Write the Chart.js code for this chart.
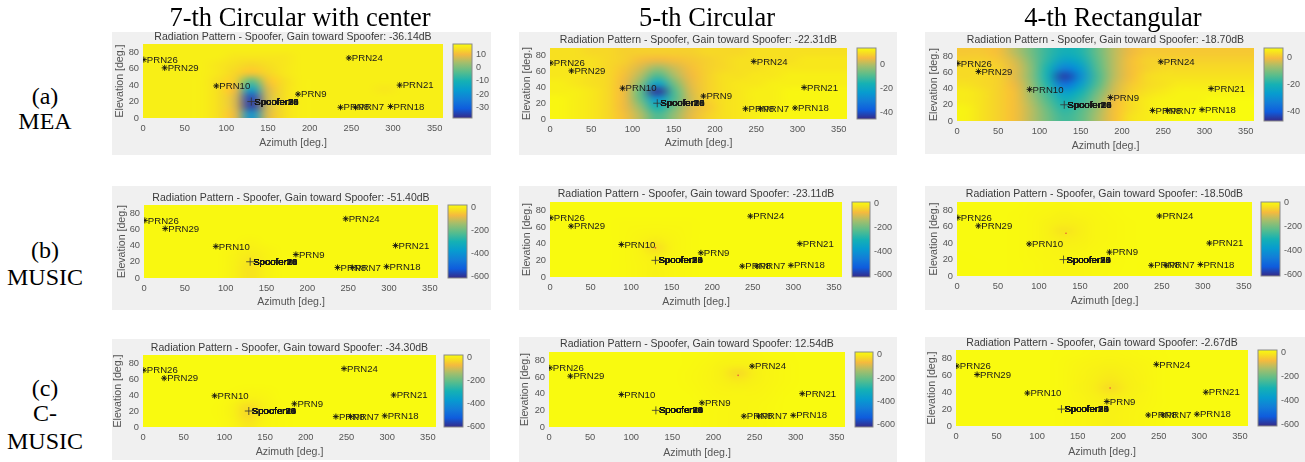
<!DOCTYPE html>
<html>
<head>
<meta charset="utf-8">
<script src="https://cdn.jsdelivr.net/npm/chart.js@4"></script>
<style>
    html, body { margin: 0; padding: 0; background: #fff; }
    body { width: 1305px; height: 462px; position: relative; overflow: hidden; }
    canvas { position: absolute; background: #f0f0f0; filter: blur(0.5px); }
    .rotulo { position: absolute; font-family: "Liberation Serif", serif; color: #000; white-space: nowrap; transform: translate(-50%, -50%); }
    .coluna { font-size: 26.5px; }
    .linha { font-size: 24px; }
</style>
</head>
<body>
<script>
// Satellite positions (same in every panel)
const prnNames = ['PRN26', 'PRN29', 'PRN10', 'PRN9', 'PRN24', 'PRN21', 'PRN18', 'PRN8', 'PRN7'];
const prnAz = [1, 26, 88, 186, 247, 308, 297, 237, 255];
const prnEl = [71, 61, 39, 29, 73, 40, 14, 13, 13];
const spooferNames = ['Spoofer26', 'Spoofer29', 'Spoofer10', 'Spoofer9', 'Spoofer24', 'Spoofer21', 'Spoofer18', 'Spoofer8', 'Spoofer7'];
const spooferAz = [130];
const spooferEl = [20];

const xTicks = [0, 50, 100, 150, 200, 250, 300, 350];
const yTicks = [0, 20, 40, 60, 80];

const columnNames = ['7-th Circular with center', '5-th Circular', '4-th Rectangular'];
const gains = ['-36.14', '-22.31', '-18.70', '-51.40', '-23.11', '-18.50', '-34.30', '12.54', '-2.67'];

// Colorbar limits and ticks for each panel
const cMin = [-37.7, -45, -47, -615, -617, -611, -600, -617, -614];
const cMax = [17.5, 13.6, 7, 26, 17, 8, 20, 23, 20];
const cTicks = [
    [-30, -20, -10, 0, 10],
    [-40, -20, 0],
    [-40, -20, 0],
    [-600, -400, -200, 0],
    [-600, -400, -200, 0],
    [-600, -400, -200, 0],
    [-600, -400, -200, 0],
    [-600, -400, -200, 0],
    [-600, -400, -200, 0]
];

// Small red dot at the deepest null, only where it is visible
const nullAz = [null, null, null, null, 130, 133, null, 230, 190];
const nullEl = [null, null, null, null, 35, 52, null, 62, 45];

// Gain, in dB. Cells are 20 deg wide and 10 deg high:
// columns from az 10 to az 350, rows from el 85 (top) to el 5 (bottom)
const fieldA1 = [
    [16,16,16,16,16,16,16,16,16,16,16,16,16,16,16,16,16,16],
    [16,16,16,16,16,15,15,15,15,16,16,16,16,16,16,16,16,16],
    [16,16,16,16,15,14,13,14,15,16,16,16,16,16,16,16,16,16],
    [16,16,16,16,15,13,11,13,15,16,16,16,16,16,16,16,16,16],
    [16,16,16,16,14,12,-3,11,14,16,16,16,16,16,16,16,16,16],
    [16,16,16,16,14,10,-16, 8,14,16,16,16,16,16,15,16,16,16],
    [16,16,16,16,14, 8,-33, 7,14,16,16,16,16,16,16,16,16,16],
    [16,16,16,16,14, 8,-35, 7,14,16,16,16,16,16,16,16,16,16],
    [16,16,16,16,14, 9,-20, 8,14,16,16,16,16,16,16,16,16,16]
];
const fieldA2 = [
    [10,10, 9, 9, 8, 8, 8, 8, 8, 9, 9, 9,10,10,10,10,10,10],
    [10,10,10, 9, 8, 6, 5, 6, 7, 8, 9,10,10,10,10,11,11,11],
    [11,11,10, 9, 7, 3,-2, 2, 6, 8, 9,10,10,11,11,11,11,11],
    [11,11,10, 9, 6, 0,-10,-1, 5, 8,10,10,11,11,12,12,12,12],
    [12,11,10, 9, 5,-4,-22,-6, 4, 8,10,11,11,12,12,12,12,12],
    [12,12,11, 9, 5,-8,-43,-10,3, 8,10,11,12,12,13,13,13,13],
    [13,12,11, 9, 5,-7,-25,-10,2, 8,10,11,12,12,13,13,13,13],
    [13,12,11, 9, 5,-3,-16,-6, 3, 7,10,11,12,12,13,13,13,13],
    [13,12,11, 9, 6, 0,-10,-3, 4, 8,10,11,12,13,13,13,13,13]
];
const fieldA3 = [
    [1, 1, 0,-5,-11,-17,-21,-19,-12,-5,-1, 1, 1, 1, 1, 1, 1, 1],
    [2, 2, 1,-3,-10,-18,-25,-22,-13,-5, 0, 2, 2, 2, 2, 2, 2, 2],
    [3, 3, 2,-2,-9,-20,-33,-27,-14,-5, 0, 2, 3, 3, 3, 3, 3, 3],
    [3, 3, 2,-2,-9,-21,-44,-30,-15,-5, 0, 3, 4, 4, 4, 4, 4, 4],
    [4, 3, 2,-1,-8,-19,-36,-26,-14,-4, 1, 3, 4, 5, 5, 5, 5, 5],
    [5, 4, 2, 0,-7,-16,-26,-20,-11,-3, 2, 4, 5, 6, 6, 6, 6, 6],
    [5, 4, 2, 0,-6,-14,-21,-17,-9,-1, 3, 5, 6, 6, 6, 7, 7, 7],
    [6, 4, 2, 0,-5,-12,-18,-14,-7, 0, 3, 5, 6, 6, 7, 7, 7, 7],
    [6, 4, 2, 0,-5,-11,-16,-13,-6, 0, 4, 5, 6, 7, 7, 7, 7, 7]
];
const fieldB1 = [
    [22,22,22,22,22,22,22,22,22,22,22,22,22,22,22,22,22,22],
    [22,22,22,22,22,22,22,22,22,22,22,22,22,22,22,22,22,22],
    [22,22,22,22,22,22,22,22,22,22,22,22,22,22,22,22,22,22],
    [22,22,22,22,22,22,22,22,22,22,22,22,22,22,22,22,22,22],
    [22,22,22,22,22,22,15,22,22,22,22,22,22,22,22,22,22,22],
    [22,22,22,22,22,15, 8,15,22,22,22,22,22,22,22,22,22,22],
    [22,22,22,22,22,13,-2,13,22,22,22,22,22,22,22,22,22,22],
    [22,22,22,22,22,12,-10,12,22,22,22,22,22,22,22,22,22,22],
    [22,22,22,22,22,12,-10,12,22,22,22,22,22,22,22,22,22,22]
];
const fieldB2 = [
    [16,16,16,16,16,16,16,16,16,16,16,16,16,16,16,16,16,16],
    [16,16,16,16,16,16,16,16,16,16,16,16,16,16,16,16,16,16],
    [16,16,16,16,13,12,12,12,13,16,16,16,16,16,16,16,16,16],
    [16,16,16,16,13,10, 8,10,13,16,16,16,16,16,16,16,16,16],
    [16,16,16,16,13, 7,-2, 7,13,16,16,16,16,16,16,16,16,16],
    [16,16,16,16,13, 6,-25,6,13,16,16,16,16,16,16,16,16,16],
    [16,16,16,16,13, 7,-2, 7,13,16,16,16,16,16,16,16,16,16],
    [16,16,16,16,13, 9, 4, 9,13,16,16,16,16,16,16,16,16,16],
    [16,16,16,16,13, 9, 4, 9,13,16,16,16,16,16,16,16,16,16]
];
const fieldB3 = [
    [6, 6, 6, 6, 4, 2, 1, 2, 3, 5, 6, 6, 6, 6, 6, 6, 6, 6],
    [6, 6, 6, 5, 3, 0,-4,-2, 1, 4, 6, 6, 6, 6, 6, 6, 6, 6],
    [6, 6, 6, 5, 2,-4,-10,-7,0, 3, 5, 6, 6, 6, 6, 6, 6, 6],
    [6, 6, 6, 5, 2,-6,-25,-10,-1,3, 5, 6, 6, 6, 6, 6, 6, 6],
    [6, 6, 6, 5, 2,-4,-12,-7,0, 3, 5, 6, 6, 6, 6, 6, 6, 6],
    [6, 6, 6, 5, 3,-1,-5,-3, 1, 4, 5, 6, 6, 6, 6, 6, 6, 6],
    [7, 6, 6, 5, 3, 0,-2,-1, 2, 4, 6, 6, 6, 6, 6, 6, 6, 6],
    [7, 7, 6, 5, 4, 1,-1, 0, 2, 4, 6, 7, 7, 7, 7, 7, 7, 7],
    [7, 7, 6, 5, 4, 1,-1, 0, 3, 5, 6, 7, 7, 7, 7, 7, 7, 7]
];
const fieldC1 = [
    [18,18,18,18,18,18,18,18,18,18,18,18,18,18,18,18,18,18],
    [18,18,18,18,18,18,18,18,18,18,18,18,18,18,18,18,18,18],
    [18,18,18,18,18,18,18,18,18,18,18,18,18,18,18,18,18,18],
    [18,18,18,18,18,18,18,18,18,18,18,18,18,18,18,18,18,18],
    [18,18,18,18,18,17,13,15,18,18,18,18,18,18,18,18,18,18],
    [18,18,18,18,18,12, 4,10,18,18,18,18,18,18,18,18,18,18],
    [18,18,18,18,17, 8,-25,8,15,18,18,18,18,18,18,18,18,18],
    [18,18,18,18,17, 8,-28,9,16,18,18,18,18,18,18,18,18,18],
    [18,18,18,18,18,10,-10,12,16,18,18,18,18,18,18,18,18,18]
];
const fieldC2 = [
    [21,21,21,21,21,21,21,21,20,18,15,13,15,18,20,21,21,21],
    [21,21,21,21,21,21,21,21,20,16,10, 7,10,15,19,21,21,21],
    [21,21,21,21,21,21,21,21,19,14, 6,-25,6,14,19,21,21,21],
    [21,21,21,21,21,21,21,21,19,15, 8,-2, 8,15,19,21,21,21],
    [21,21,21,21,21,21,21,21,20,16,12,11,12,16,20,21,21,21],
    [21,21,21,21,21,21,21,21,21,17,15,14,15,17,21,21,21,21],
    [21,21,21,21,21,21,21,21,21,18,16,15,16,18,21,21,21,21],
    [21,21,21,21,21,21,21,21,21,18,16,15,16,18,21,21,21,21],
    [21,21,21,21,21,21,21,21,21,18,16,15,16,18,21,21,21,21]
];
const fieldC3 = [
    [18,18,18,18,18,18,17,15,13,12,13,15,17,18,18,18,18,18],
    [18,18,18,18,18,18,16,12, 9, 7, 9,12,16,18,18,18,18,18],
    [18,18,18,18,18,18,15,10, 5, 0, 5,10,15,18,18,18,18,18],
    [18,18,18,18,18,18,15, 9, 3,-8, 3, 9,15,18,18,18,18,18],
    [18,18,18,18,18,18,15, 8, 0,-25,0, 8,15,18,18,18,18,18],
    [18,18,18,18,18,18,16,10, 4,-3, 4,10,16,18,18,18,18,18],
    [18,18,18,18,18,18,16,12, 7, 3, 7,12,16,18,18,18,18,18],
    [18,18,18,18,18,18,17,13, 9, 6, 9,13,17,18,18,18,18,18],
    [18,18,18,18,18,18,17,13, 9, 6, 9,13,17,18,18,18,18,18]
];
const fields = [fieldA1, fieldA2, fieldA3, fieldB1, fieldB2, fieldB3, fieldC1, fieldC2, fieldC3];

// Layout of each panel: grey box, plot area, colorbar
const boxes = [
    { gx: 112, gy: 32, gr: 491, gb: 155, px: 143, py: 44, pr: 443, pb: 118, barX: 453, barW: 19, titleY: 37, xTitleY: 143, yTitleX: 120 },
    { gx: 519, gy: 32, gr: 897, gb: 155, px: 550, py: 48, pr: 847, pb: 119, barX: 857, barW: 19, titleY: 40, xTitleY: 143, yTitleX: 527 },
    { gx: 925, gy: 32, gr: 1305, gb: 154, px: 957, py: 48, pr: 1254, pb: 121, barX: 1264, barW: 19, titleY: 40, xTitleY: 146, yTitleX: 934 },
    { gx: 112, gy: 186, gr: 491, gb: 310, px: 144, py: 205, pr: 438, pb: 278, barX: 448, barW: 19, titleY: 198, xTitleY: 302, yTitleX: 122 },
    { gx: 519, gy: 186, gr: 897, gb: 310, px: 550, py: 202, pr: 842, pb: 277, barX: 852, barW: 18, titleY: 194, xTitleY: 302, yTitleX: 527 },
    { gx: 925, gy: 186, gr: 1305, gb: 310, px: 957, py: 202, pr: 1252, pb: 276, barX: 1261, barW: 19, titleY: 194, xTitleY: 301, yTitleX: 934 },
    { gx: 112, gy: 339, gr: 490, gb: 460, px: 143, py: 355, pr: 436, pb: 427, barX: 444, barW: 19, titleY: 348, xTitleY: 452, yTitleX: 118 },
    { gx: 519, gy: 337, gr: 897, gb: 462, px: 549, py: 352, pr: 845, pb: 427, barX: 855, barW: 18, titleY: 344, xTitleY: 453, yTitleX: 525 },
    { gx: 925, gy: 337, gr: 1305, gb: 462, px: 956, py: 350, pr: 1248, pb: 426, barX: 1258, barW: 19, titleY: 343, xTitleY: 452, yTitleX: 932 }
];

// Parula colormap stops
const parulaPos = [0, 0.125, 0.25, 0.375, 0.5, 0.625, 0.75, 0.86, 0.93, 1];
const parula = [
    [53, 42, 135], [15, 92, 221], [18, 125, 216], [7, 156, 207], [21, 177, 180],
    [89, 189, 140], [165, 190, 107], [245, 186, 62], [247, 220, 35], [249, 251, 14]
];

function corParula(t) {
    t = Math.min(1, Math.max(0, t));
    let i = 0;
    while (i < parula.length - 2 && t > parulaPos[i + 1]) i++;
    const f = (t - parulaPos[i]) / (parulaPos[i + 1] - parulaPos[i]);
    return parula[i].map((c, k) => Math.round(c + (parula[i + 1][k] - c) * f));
}

const fonte = 'Liberation Sans, Arial, sans-serif';
const corEixo = '#555';

// Heat map under the points and the colorbar beside the plot
const mapaPlugin = {
    id: 'mapa',
    beforeDatasetsDraw(chart, args, opts) {
        const ctx = chart.ctx;
        const x = chart.scales.x, y = chart.scales.y, c = chart.scales.c;
        const campo = opts.campo;

        const off = document.createElement('canvas');
        off.width = campo[0].length;
        off.height = campo.length;
        const octx = off.getContext('2d');
        const img = octx.createImageData(off.width, off.height);
        campo.forEach((linha, r) => linha.forEach((v, k) => {
            const rgb = corParula((v - c.min) / (c.max - c.min));
            const p = (r * off.width + k) * 4;
            img.data[p] = rgb[0];
            img.data[p + 1] = rgb[1];
            img.data[p + 2] = rgb[2];
            img.data[p + 3] = 255;
        }));
        octx.putImageData(img, 0, 0);

        const x0 = x.getPixelForValue(0), x1 = x.getPixelForValue(360);
        const y0 = y.getPixelForValue(90), y1 = y.getPixelForValue(0);
        ctx.save();
        ctx.imageSmoothingEnabled = true;
        ctx.imageSmoothingQuality = 'high';
        ctx.drawImage(off, x0, y0, x1 - x0, y1 - y0);

        // colorbar
        const top = c.getPixelForValue(c.max), bottom = c.getPixelForValue(c.min);
        const grad = ctx.createLinearGradient(0, bottom, 0, top);
        parula.forEach((rgb, i) => grad.addColorStop(parulaPos[i], 'rgb(' + rgb.join(',') + ')'));
        ctx.fillStyle = grad;
        ctx.fillRect(opts.barX, top, opts.barW, bottom - top);
        ctx.strokeStyle = '#8a8a8a';
        ctx.lineWidth = 1;
        ctx.strokeRect(opts.barX, top, opts.barW, bottom - top);
        ctx.restore();
    }
};

// Panel title and the text next to each satellite and to the spoofer
const nomesPlugin = {
    id: 'nomes',
    afterDatasetsDraw(chart, args, opts) {
        const ctx = chart.ctx;
        const x = chart.scales.x, y = chart.scales.y;
        const area = chart.chartArea;
        ctx.save();
        ctx.font = '10.5px ' + fonte;
        ctx.fillStyle = '#3a3a3a';
        ctx.textBaseline = 'middle';
        ctx.textAlign = 'center';
        ctx.fillText(opts.titulo, (area.left + area.right) / 2, opts.tituloY);

        ctx.font = '9.6px ' + fonte;
        ctx.fillStyle = '#1a1a1a';
        ctx.textAlign = 'left';
        prnNames.forEach((nome, i) => {
            ctx.fillText(nome, x.getPixelForValue(prnAz[i]) + 3, y.getPixelForValue(prnEl[i]) + 0.5);
        });
        spooferNames.forEach(nome => {
            ctx.fillText(nome, x.getPixelForValue(spooferAz[0]) + 3, y.getPixelForValue(spooferEl[0]) + 0.5);
        });
        ctx.restore();
    }
};

function criarPainel(i) {
    const b = boxes[i];
    const canvas = document.createElement('canvas');
    canvas.width = b.gr - b.gx;
    canvas.height = b.gb - b.gy;
    canvas.style.left = b.gx + 'px';
    canvas.style.top = b.gy + 'px';
    document.body.appendChild(canvas);

    const plotW = b.barX - b.pr;

    new Chart(canvas.getContext('2d'), {
        type: 'scatter',
        data: {
            datasets: [
                {
                    data: prnAz.map((az, k) => ({ x: az, y: prnEl[k] })),
                    pointStyle: 'star',
                    pointRadius: 3,
                    borderColor: '#111',
                    backgroundColor: '#111',
                    pointBorderWidth: 0.9
                },
                {
                    data: spooferAz.map((az, k) => ({ x: az, y: spooferEl[k] })),
                    pointStyle: 'cross',
                    pointRadius: 4,
                    borderColor: '#333',
                    pointBorderWidth: 0.8
                },
                {
                    data: nullAz[i] === null ? [] : [{ x: nullAz[i], y: nullEl[i] }],
                    pointStyle: 'circle',
                    pointRadius: 0.8,
                    borderWidth: 0,
                    backgroundColor: '#e8503a'
                }
            ]
        },
        options: {
            responsive: false,
            animation: false,
            devicePixelRatio: 1,
            events: [],
            layout: { padding: { top: b.py - b.gy } },
            plugins: {
                legend: { display: false },
                tooltip: { enabled: false },
                title: { display: false },
                mapa: { campo: fields[i], barX: b.barX - b.gx, barW: b.barW },
                nomes: { titulo: 'Radiation Pattern - Spoofer, Gain toward Spoofer: ' + gains[i] + 'dB', tituloY: b.titleY - b.gy }
            },
            scales: {
                x: {
                    type: 'linear',
                    min: 0,
                    max: 360,
                    afterBuildTicks: s => { s.ticks = xTicks.map(v => ({ value: v })); },
                    afterFit: s => { s.height = b.gb - b.pb; },
                    grid: { display: false, drawTicks: false },
                    border: { display: false },
                    ticks: { color: corEixo, font: { family: fonte, size: 9.3 }, padding: 5, maxRotation: 0, autoSkip: false },
                    title: {
                        display: true,
                        text: 'Azimuth [deg.]',
                        color: corEixo,
                        font: { family: fonte, size: 10.6, lineHeight: '12px' },
                        padding: { top: 0, bottom: b.gb - b.xTitleY - 6 }
                    }
                },
                y: {
                    type: 'linear',
                    min: 0,
                    max: 90,
                    afterBuildTicks: s => { s.ticks = yTicks.map(v => ({ value: v })); },
                    afterFit: s => { s.width = b.px - b.gx; s.paddingTop = 0; s.paddingBottom = 0; },
                    grid: { display: false, drawTicks: false },
                    border: { display: false },
                    ticks: { color: corEixo, font: { family: fonte, size: 9.3 }, padding: 4, autoSkip: false },
                    title: {
                        display: true,
                        text: 'Elevation [deg.]',
                        color: corEixo,
                        font: { family: fonte, size: 10.6, lineHeight: '12px' },
                        padding: { top: b.yTitleX - b.gx - 6, bottom: 0 }
                    }
                },
                c: {
                    type: 'linear',
                    position: 'right',
                    min: cMin[i],
                    max: cMax[i],
                    afterBuildTicks: s => { s.ticks = cTicks[i].map(v => ({ value: v })); },
                    // tick padding is added to the top padding of the scale, so clear it
                    afterFit: s => { s.width = b.gr - b.pr; s.paddingTop = 0; s.paddingBottom = 0; },
                    grid: { display: false, drawTicks: false },
                    border: { display: false },
                    ticks: { color: corEixo, font: { family: fonte, size: 9 }, padding: plotW + b.barW + 4, autoSkip: false }
                }
            }
        },
        plugins: [mapaPlugin, nomesPlugin]
    });
}

function criarRotulo(texto, classe, x, y) {
    const el = document.createElement('div');
    el.className = 'rotulo ' + classe;
    el.textContent = texto;
    el.style.left = x + 'px';
    el.style.top = y + 'px';
    document.body.appendChild(el);
}

document.addEventListener('DOMContentLoaded', () => {
    fields.forEach((f, i) => criarPainel(i));

    criarRotulo(columnNames[0], 'coluna', 300, 17);
    criarRotulo(columnNames[1], 'coluna', 707, 17);
    criarRotulo(columnNames[2], 'coluna', 1113, 17);

    criarRotulo('(a)', 'linha', 45, 96);
    criarRotulo('MEA', 'linha', 45, 121);
    criarRotulo('(b)', 'linha', 45, 250);
    criarRotulo('MUSIC', 'linha', 45, 277);
    criarRotulo('(c)', 'linha', 45, 388);
    criarRotulo('C-', 'linha', 45, 413);
    criarRotulo('MUSIC', 'linha', 45, 441);
});
</script>
</body>
</html>
